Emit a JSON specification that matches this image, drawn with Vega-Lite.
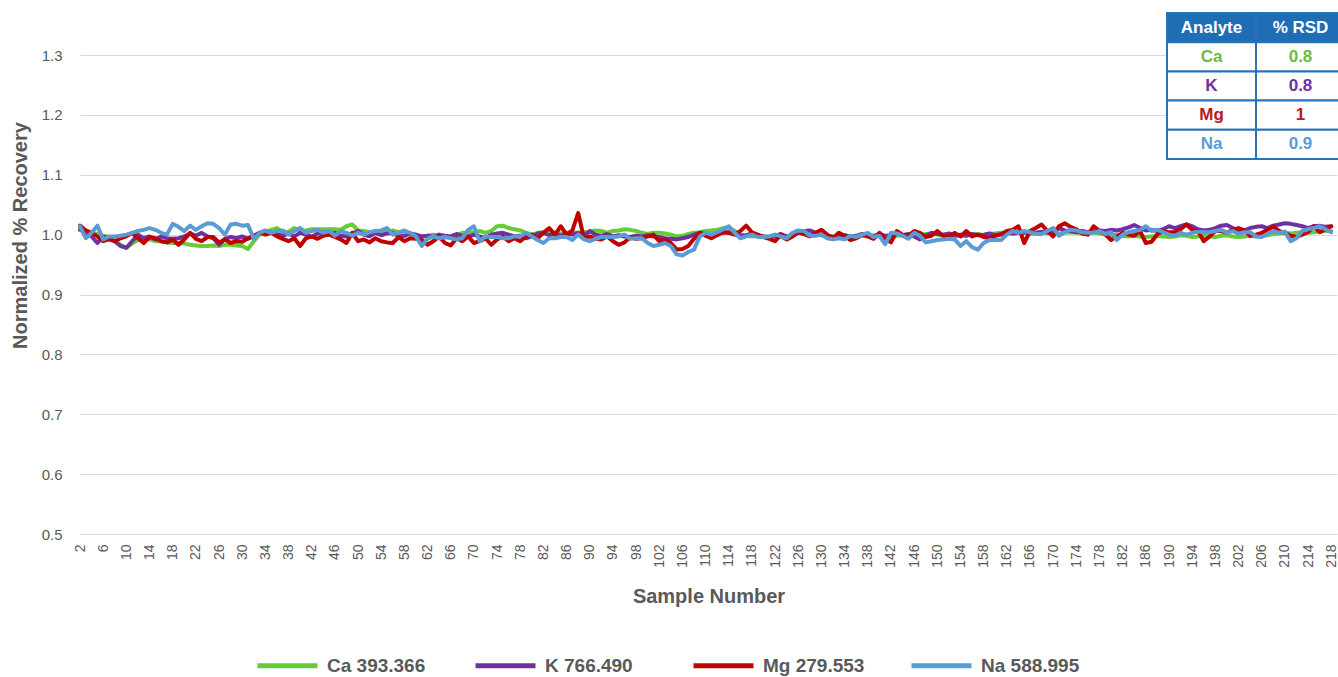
{
"$schema":"https://vega.github.io/schema/vega-lite/v6.json",
"width":1257,"height":479,
"autosize":{"type":"none"},
"padding":{"left":80,"top":55,"right":1,"bottom":143},
"background":"white",
"config":{"view":{"stroke":null},"font":"Liberation Sans"},
"layer":[
{
"data":{"values":[
{"s":2,"Ca":1.011,"K":1.008,"Mg":1.015,"Na":1.014},
{"s":3,"Ca":1.006,"K":1.003,"Mg":1.007,"Na":0.994},
{"s":4,"Ca":1.003,"K":0.997,"Mg":1.003,"Na":1.003},
{"s":5,"Ca":1.001,"K":0.986,"Mg":0.997,"Na":1.015},
{"s":6,"Ca":0.998,"K":0.997,"Mg":0.989,"Na":0.992},
{"s":7,"Ca":0.996,"K":0.993,"Mg":0.992,"Na":0.997},
{"s":8,"Ca":0.989,"K":0.989,"Mg":0.989,"Na":0.997},
{"s":9,"Ca":0.983,"K":0.981,"Mg":0.994,"Na":0.998},
{"s":10,"Ca":0.978,"K":0.978,"Mg":0.997,"Na":1.0},
{"s":11,"Ca":0.985,"K":0.989,"Mg":1.003,"Na":1.003},
{"s":12,"Ca":0.991,"K":1.0,"Mg":0.994,"Na":1.006},
{"s":13,"Ca":0.994,"K":0.994,"Mg":0.986,"Na":1.008},
{"s":14,"Ca":0.992,"K":0.997,"Mg":0.996,"Na":1.011},
{"s":15,"Ca":0.989,"K":0.992,"Mg":0.994,"Na":1.008},
{"s":16,"Ca":0.989,"K":0.997,"Mg":0.989,"Na":1.003},
{"s":17,"Ca":0.987,"K":0.994,"Mg":0.987,"Na":1.0},
{"s":18,"Ca":0.986,"K":0.993,"Mg":0.992,"Na":1.018},
{"s":19,"Ca":0.986,"K":0.994,"Mg":0.983,"Na":1.013},
{"s":20,"Ca":0.985,"K":0.997,"Mg":0.992,"Na":1.006},
{"s":21,"Ca":0.983,"K":1.002,"Mg":1.003,"Na":1.015},
{"s":22,"Ca":0.982,"K":0.998,"Mg":0.993,"Na":1.008},
{"s":23,"Ca":0.981,"K":1.003,"Mg":0.989,"Na":1.014},
{"s":24,"Ca":0.981,"K":0.997,"Mg":0.996,"Na":1.019},
{"s":25,"Ca":0.982,"K":0.994,"Mg":0.996,"Na":1.018},
{"s":26,"Ca":0.981,"K":0.983,"Mg":0.987,"Na":1.011},
{"s":27,"Ca":0.983,"K":0.993,"Mg":0.992,"Na":1.0},
{"s":28,"Ca":0.983,"K":0.996,"Mg":0.986,"Na":1.017},
{"s":29,"Ca":0.982,"K":0.994,"Mg":0.989,"Na":1.018},
{"s":30,"Ca":0.981,"K":0.997,"Mg":0.988,"Na":1.015},
{"s":31,"Ca":0.976,"K":0.993,"Mg":0.994,"Na":1.016},
{"s":32,"Ca":0.989,"K":0.998,"Mg":0.997,"Na":0.993},
{"s":33,"Ca":1.0,"K":1.003,"Mg":1.003,"Na":1.003},
{"s":34,"Ca":1.004,"K":1.006,"Mg":1.0,"Na":1.007},
{"s":35,"Ca":1.008,"K":1.003,"Mg":1.003,"Na":1.003},
{"s":36,"Ca":1.011,"K":1.001,"Mg":0.997,"Na":1.006},
{"s":37,"Ca":1.004,"K":0.998,"Mg":0.993,"Na":1.007},
{"s":38,"Ca":1.005,"K":1.002,"Mg":0.989,"Na":1.0},
{"s":39,"Ca":1.011,"K":0.997,"Mg":0.994,"Na":1.006},
{"s":40,"Ca":1.006,"K":1.003,"Mg":0.981,"Na":1.011},
{"s":41,"Ca":1.007,"K":1.0,"Mg":0.994,"Na":1.003},
{"s":42,"Ca":1.009,"K":0.996,"Mg":0.997,"Na":1.006},
{"s":43,"Ca":1.009,"K":1.002,"Mg":0.993,"Na":1.008},
{"s":44,"Ca":1.009,"K":1.004,"Mg":0.998,"Na":1.003},
{"s":45,"Ca":1.009,"K":1.0,"Mg":1.0,"Na":1.006},
{"s":46,"Ca":1.009,"K":1.003,"Mg":0.996,"Na":0.998},
{"s":47,"Ca":1.008,"K":0.998,"Mg":0.992,"Na":1.006},
{"s":48,"Ca":1.014,"K":0.997,"Mg":0.986,"Na":1.003},
{"s":49,"Ca":1.017,"K":1.002,"Mg":1.003,"Na":0.998},
{"s":50,"Ca":1.007,"K":1.006,"Mg":0.989,"Na":1.003},
{"s":51,"Ca":1.006,"K":1.0,"Mg":0.992,"Na":1.0},
{"s":52,"Ca":1.004,"K":0.997,"Mg":0.987,"Na":1.004},
{"s":53,"Ca":1.003,"K":1.003,"Mg":0.994,"Na":1.006},
{"s":54,"Ca":1.003,"K":0.999,"Mg":0.989,"Na":1.007},
{"s":55,"Ca":1.005,"K":1.002,"Mg":0.987,"Na":1.011},
{"s":56,"Ca":1.007,"K":1.003,"Mg":0.986,"Na":1.0},
{"s":57,"Ca":1.004,"K":0.997,"Mg":0.996,"Na":1.003},
{"s":58,"Ca":1.007,"K":0.998,"Mg":0.989,"Na":1.006},
{"s":59,"Ca":1.001,"K":1.002,"Mg":0.994,"Na":1.003},
{"s":60,"Ca":0.998,"K":1.0,"Mg":0.993,"Na":0.997},
{"s":61,"Ca":0.997,"K":0.997,"Mg":0.991,"Na":0.981},
{"s":62,"Ca":0.998,"K":0.998,"Mg":0.983,"Na":0.993},
{"s":63,"Ca":1.0,"K":0.996,"Mg":0.989,"Na":0.997},
{"s":64,"Ca":0.998,"K":1.0,"Mg":0.997,"Na":0.994},
{"s":65,"Ca":0.997,"K":0.998,"Mg":0.986,"Na":0.996},
{"s":66,"Ca":0.996,"K":0.997,"Mg":0.982,"Na":0.994},
{"s":67,"Ca":0.999,"K":1.001,"Mg":0.994,"Na":0.992},
{"s":68,"Ca":1.003,"K":0.998,"Mg":0.989,"Na":0.994},
{"s":69,"Ca":1.003,"K":0.996,"Mg":0.997,"Na":1.008},
{"s":70,"Ca":1.004,"K":1.0,"Mg":0.986,"Na":1.014},
{"s":71,"Ca":1.006,"K":0.997,"Mg":0.989,"Na":0.989},
{"s":72,"Ca":1.003,"K":0.994,"Mg":0.994,"Na":0.997},
{"s":73,"Ca":1.006,"K":1.0,"Mg":0.983,"Na":0.996},
{"s":74,"Ca":1.014,"K":1.002,"Mg":0.992,"Na":0.996},
{"s":75,"Ca":1.015,"K":1.003,"Mg":0.997,"Na":0.994},
{"s":76,"Ca":1.011,"K":1.0,"Mg":0.989,"Na":0.994},
{"s":77,"Ca":1.009,"K":0.997,"Mg":0.994,"Na":0.997},
{"s":78,"Ca":1.007,"K":0.998,"Mg":0.989,"Na":0.997},
{"s":79,"Ca":1.003,"K":0.994,"Mg":0.997,"Na":1.003},
{"s":80,"Ca":1.0,"K":0.997,"Mg":1.0,"Na":0.997},
{"s":81,"Ca":1.003,"K":1.002,"Mg":0.994,"Na":0.991},
{"s":82,"Ca":1.004,"K":1.003,"Mg":1.003,"Na":0.986},
{"s":83,"Ca":1.003,"K":0.999,"Mg":1.011,"Na":0.994},
{"s":84,"Ca":1.003,"K":1.002,"Mg":1.0,"Na":0.994},
{"s":85,"Ca":1.002,"K":0.998,"Mg":1.014,"Na":0.996},
{"s":86,"Ca":1.003,"K":1.001,"Mg":1.0,"Na":0.996},
{"s":87,"Ca":1.004,"K":1.0,"Mg":1.007,"Na":0.991},
{"s":88,"Ca":1.003,"K":1.003,"Mg":1.036,"Na":1.0},
{"s":89,"Ca":1.004,"K":0.998,"Mg":0.994,"Na":0.992},
{"s":90,"Ca":1.005,"K":1.006,"Mg":0.997,"Na":0.989},
{"s":91,"Ca":1.007,"K":1.0,"Mg":0.993,"Na":0.993},
{"s":92,"Ca":1.006,"K":0.998,"Mg":0.992,"Na":0.996},
{"s":93,"Ca":1.003,"K":1.001,"Mg":0.997,"Na":0.996},
{"s":94,"Ca":1.006,"K":0.997,"Mg":0.989,"Na":0.996},
{"s":95,"Ca":1.007,"K":0.999,"Mg":0.983,"Na":0.997},
{"s":96,"Ca":1.009,"K":0.997,"Mg":0.987,"Na":1.0},
{"s":97,"Ca":1.008,"K":0.996,"Mg":0.996,"Na":0.993},
{"s":98,"Ca":1.006,"K":0.998,"Mg":0.993,"Na":0.994},
{"s":99,"Ca":1.003,"K":0.997,"Mg":0.994,"Na":0.994},
{"s":100,"Ca":1.001,"K":0.999,"Mg":0.997,"Na":0.986},
{"s":101,"Ca":1.003,"K":0.997,"Mg":1.0,"Na":0.981},
{"s":102,"Ca":1.003,"K":0.996,"Mg":0.989,"Na":0.983},
{"s":103,"Ca":1.002,"K":0.994,"Mg":0.992,"Na":0.986},
{"s":104,"Ca":1.0,"K":0.993,"Mg":0.986,"Na":0.981},
{"s":105,"Ca":0.997,"K":0.992,"Mg":0.975,"Na":0.967},
{"s":106,"Ca":0.998,"K":0.994,"Mg":0.976,"Na":0.965},
{"s":107,"Ca":1.001,"K":0.996,"Mg":0.981,"Na":0.971},
{"s":108,"Ca":1.003,"K":1.0,"Mg":0.993,"Na":0.975},
{"s":109,"Ca":1.004,"K":1.003,"Mg":1.003,"Na":0.997},
{"s":110,"Ca":1.006,"K":1.001,"Mg":0.998,"Na":1.003},
{"s":111,"Ca":1.007,"K":0.999,"Mg":0.994,"Na":1.0},
{"s":112,"Ca":1.008,"K":1.002,"Mg":0.999,"Na":1.004},
{"s":113,"Ca":1.011,"K":1.003,"Mg":1.004,"Na":1.009},
{"s":114,"Ca":1.012,"K":1.004,"Mg":1.003,"Na":1.014},
{"s":115,"Ca":1.006,"K":1.001,"Mg":1.0,"Na":1.003},
{"s":116,"Ca":1.0,"K":0.998,"Mg":1.006,"Na":0.994},
{"s":117,"Ca":0.998,"K":0.999,"Mg":1.015,"Na":0.997},
{"s":118,"Ca":0.997,"K":1.002,"Mg":1.004,"Na":1.0},
{"s":119,"Ca":0.998,"K":0.998,"Mg":1.0,"Na":0.996},
{"s":120,"Ca":0.997,"K":0.997,"Mg":0.996,"Na":0.996},
{"s":121,"Ca":0.996,"K":0.996,"Mg":0.993,"Na":0.997},
{"s":122,"Ca":0.998,"K":0.998,"Mg":0.989,"Na":1.0},
{"s":123,"Ca":0.996,"K":1.001,"Mg":1.0,"Na":0.997},
{"s":124,"Ca":0.992,"K":0.997,"Mg":0.992,"Na":0.994},
{"s":125,"Ca":0.997,"K":0.999,"Mg":0.997,"Na":1.003},
{"s":126,"Ca":1.003,"K":1.003,"Mg":1.004,"Na":1.007},
{"s":127,"Ca":1.001,"K":1.006,"Mg":1.001,"Na":1.006},
{"s":128,"Ca":0.998,"K":1.007,"Mg":0.997,"Na":0.998},
{"s":129,"Ca":0.999,"K":1.003,"Mg":1.003,"Na":0.998},
{"s":130,"Ca":1.0,"K":0.999,"Mg":1.008,"Na":1.0},
{"s":131,"Ca":0.998,"K":0.998,"Mg":1.0,"Na":0.994},
{"s":132,"Ca":0.997,"K":0.996,"Mg":0.994,"Na":0.992},
{"s":133,"Ca":0.996,"K":0.998,"Mg":1.003,"Na":0.994},
{"s":134,"Ca":0.998,"K":0.999,"Mg":0.998,"Na":0.992},
{"s":135,"Ca":0.997,"K":0.997,"Mg":0.991,"Na":0.998},
{"s":136,"Ca":0.996,"K":0.998,"Mg":0.994,"Na":0.996},
{"s":137,"Ca":0.998,"K":1.001,"Mg":1.0,"Na":1.0},
{"s":138,"Ca":0.997,"K":0.999,"Mg":0.997,"Na":1.003},
{"s":139,"Ca":0.999,"K":0.997,"Mg":0.993,"Na":0.996},
{"s":140,"Ca":0.998,"K":1.001,"Mg":1.003,"Na":0.998},
{"s":141,"Ca":0.997,"K":0.998,"Mg":0.994,"Na":0.984},
{"s":142,"Ca":0.996,"K":0.999,"Mg":0.987,"Na":1.003},
{"s":143,"Ca":0.998,"K":1.002,"Mg":1.006,"Na":1.002},
{"s":144,"Ca":0.999,"K":0.999,"Mg":1.0,"Na":0.998},
{"s":145,"Ca":0.997,"K":1.001,"Mg":0.998,"Na":0.993},
{"s":146,"Ca":0.998,"K":0.997,"Mg":1.006,"Na":1.003},
{"s":147,"Ca":1.0,"K":0.992,"Mg":1.003,"Na":0.998},
{"s":148,"Ca":1.001,"K":0.998,"Mg":0.996,"Na":0.987},
{"s":149,"Ca":1.002,"K":1.003,"Mg":0.998,"Na":0.989},
{"s":150,"Ca":1.0,"K":1.001,"Mg":1.006,"Na":0.991},
{"s":151,"Ca":0.998,"K":1.0,"Mg":0.998,"Na":0.992},
{"s":152,"Ca":0.997,"K":1.002,"Mg":0.997,"Na":0.993},
{"s":153,"Ca":0.997,"K":0.999,"Mg":1.003,"Na":0.992},
{"s":154,"Ca":0.998,"K":1.0,"Mg":0.997,"Na":0.981},
{"s":155,"Ca":0.999,"K":0.998,"Mg":1.006,"Na":0.989},
{"s":156,"Ca":1.0,"K":1.001,"Mg":0.997,"Na":0.979},
{"s":157,"Ca":1.001,"K":0.999,"Mg":1.0,"Na":0.975},
{"s":158,"Ca":0.999,"K":1.0,"Mg":0.996,"Na":0.986},
{"s":159,"Ca":1.001,"K":1.002,"Mg":0.994,"Na":0.991},
{"s":160,"Ca":1.002,"K":0.999,"Mg":0.998,"Na":0.991},
{"s":161,"Ca":1.003,"K":1.001,"Mg":1.0,"Na":0.991},
{"s":162,"Ca":1.003,"K":1.003,"Mg":1.006,"Na":1.0},
{"s":163,"Ca":1.002,"K":1.002,"Mg":1.008,"Na":1.006},
{"s":164,"Ca":1.003,"K":1.003,"Mg":1.014,"Na":1.003},
{"s":165,"Ca":1.004,"K":1.004,"Mg":0.986,"Na":1.006},
{"s":166,"Ca":1.003,"K":1.002,"Mg":1.006,"Na":1.004},
{"s":167,"Ca":1.002,"K":1.003,"Mg":1.011,"Na":1.001},
{"s":168,"Ca":1.003,"K":1.005,"Mg":1.017,"Na":1.001},
{"s":169,"Ca":1.004,"K":1.003,"Mg":1.006,"Na":1.006},
{"s":170,"Ca":1.003,"K":1.007,"Mg":0.997,"Na":1.011},
{"s":171,"Ca":1.002,"K":1.011,"Mg":1.014,"Na":0.998},
{"s":172,"Ca":1.003,"K":1.007,"Mg":1.019,"Na":1.004},
{"s":173,"Ca":1.004,"K":1.006,"Mg":1.013,"Na":1.008},
{"s":174,"Ca":1.003,"K":1.004,"Mg":1.009,"Na":1.007},
{"s":175,"Ca":1.002,"K":1.006,"Mg":1.002,"Na":1.004},
{"s":176,"Ca":1.003,"K":1.004,"Mg":1.0,"Na":1.003},
{"s":177,"Ca":1.004,"K":1.005,"Mg":1.014,"Na":1.003},
{"s":178,"Ca":1.002,"K":1.007,"Mg":1.006,"Na":1.006},
{"s":179,"Ca":1.001,"K":1.006,"Mg":1.0,"Na":1.001},
{"s":180,"Ca":0.999,"K":1.008,"Mg":0.991,"Na":1.004},
{"s":181,"Ca":1.0,"K":1.007,"Mg":0.997,"Na":0.991},
{"s":182,"Ca":0.998,"K":1.009,"Mg":1.003,"Na":1.0},
{"s":183,"Ca":0.997,"K":1.012,"Mg":1.0,"Na":1.004},
{"s":184,"Ca":0.998,"K":1.016,"Mg":0.998,"Na":1.006},
{"s":185,"Ca":0.997,"K":1.011,"Mg":1.006,"Na":1.008},
{"s":186,"Ca":0.996,"K":1.007,"Mg":0.986,"Na":1.014},
{"s":187,"Ca":0.997,"K":1.008,"Mg":0.988,"Na":1.006},
{"s":188,"Ca":0.998,"K":1.006,"Mg":1.001,"Na":1.008},
{"s":189,"Ca":0.997,"K":1.009,"Mg":1.005,"Na":1.004},
{"s":190,"Ca":0.996,"K":1.014,"Mg":1.004,"Na":1.0},
{"s":191,"Ca":0.997,"K":1.011,"Mg":1.004,"Na":0.998},
{"s":192,"Ca":0.999,"K":1.014,"Mg":1.009,"Na":1.003},
{"s":193,"Ca":0.998,"K":1.017,"Mg":1.017,"Na":1.0},
{"s":194,"Ca":0.996,"K":1.014,"Mg":1.008,"Na":1.003},
{"s":195,"Ca":0.997,"K":1.009,"Mg":1.006,"Na":1.005},
{"s":196,"Ca":0.998,"K":1.007,"Mg":0.989,"Na":1.004},
{"s":197,"Ca":0.997,"K":1.008,"Mg":0.997,"Na":1.004},
{"s":198,"Ca":0.996,"K":1.011,"Mg":1.006,"Na":1.006},
{"s":199,"Ca":0.998,"K":1.015,"Mg":1.006,"Na":1.008},
{"s":200,"Ca":0.999,"K":1.016,"Mg":1.003,"Na":1.003},
{"s":201,"Ca":0.997,"K":1.011,"Mg":1.008,"Na":1.006},
{"s":202,"Ca":0.996,"K":1.006,"Mg":1.011,"Na":1.001},
{"s":203,"Ca":0.997,"K":1.007,"Mg":1.007,"Na":1.004},
{"s":204,"Ca":0.998,"K":1.011,"Mg":0.998,"Na":1.004},
{"s":205,"Ca":0.997,"K":1.013,"Mg":1.0,"Na":0.997},
{"s":206,"Ca":0.998,"K":1.014,"Mg":1.003,"Na":0.996},
{"s":207,"Ca":0.999,"K":1.011,"Mg":1.008,"Na":1.001},
{"s":208,"Ca":1.001,"K":1.015,"Mg":1.014,"Na":1.006},
{"s":209,"Ca":1.002,"K":1.017,"Mg":1.006,"Na":1.003},
{"s":210,"Ca":1.003,"K":1.019,"Mg":1.003,"Na":1.005},
{"s":211,"Ca":1.002,"K":1.018,"Mg":0.998,"Na":0.989},
{"s":212,"Ca":1.003,"K":1.016,"Mg":0.996,"Na":0.994},
{"s":213,"Ca":1.004,"K":1.014,"Mg":1.0,"Na":1.006},
{"s":214,"Ca":1.003,"K":1.011,"Mg":1.004,"Na":1.009},
{"s":215,"Ca":1.004,"K":1.014,"Mg":1.014,"Na":1.011},
{"s":216,"Ca":1.005,"K":1.015,"Mg":1.004,"Na":1.014},
{"s":217,"Ca":1.006,"K":1.013,"Mg":1.009,"Na":1.009},
{"s":218,"Ca":1.006,"K":1.014,"Mg":1.014,"Na":1.004}
]},
"transform":[{"fold":["Ca","K","Mg","Na"],"as":["analyte","value"]}],
"mark":{"type":"line","strokeWidth":4,"strokeJoin":"round","strokeCap":"round"},
"encoding":{
"x":{"field":"s","type":"quantitative","scale":{"domain":[2,219],"nice":false,"zero":false},
"axis":{"values":[2,6,10,14,18,22,26,30,34,38,42,46,50,54,58,62,66,70,74,78,82,86,90,94,98,102,106,110,114,118,122,126,130,134,138,142,146,150,154,158,162,166,170,174,178,182,186,190,194,198,202,206,210,214,218],
"labelAngle":-90,"labelFontSize":14,"labelColor":"#595959","labelPadding":10,"labelFlush":false,"labelOverlap":false,
"ticks":false,"domainColor":"#D9D9D9","grid":false,
"title":"Sample Number","titleFontSize":20,"titleColor":"#595959","titleFontWeight":"bold","titleY":62,"titleBaseline":"middle"}},
"y":{"field":"value","type":"quantitative","scale":{"domain":[0.5,1.3],"nice":false,"zero":false},
"axis":{"values":[0.5,0.6,0.7,0.8,0.9,1.0,1.1,1.2,1.3],"format":".1f","grid":true,"gridColor":"#D9D9D9","gridWidth":1,"domain":false,"ticks":false,
"labelFontSize":15,"labelColor":"#595959","labelPadding":18,
"title":"Normalized % Recovery","titleFontSize":20,"titleColor":"#595959","titleFontWeight":"bold","titleX":-60,"titleY":180,"titleBaseline":"middle","titleAlign":"center"}},
"color":{"field":"analyte","type":"nominal",
"scale":{"domain":["Ca","K","Mg","Na"],"range":["#66CC33","#7030A0","#C00000","#5B9BD5"]},
"legend":{"orient":"none","legendX":175,"legendY":578,"direction":"horizontal","columns":4,"gridAlign":"all","columnPadding":36,"padding":0,
"title":null,"symbolType":"stroke","symbolSize":3600,"symbolStrokeWidth":5,
"labelFontSize":19,"labelFontWeight":"bold","labelColor":"#595959","labelOffset":7,"labelLimit":200,
"labelExpr":"{'Ca':'Ca 393.366','K':'K 766.490','Mg':'Mg 279.553','Na':'Na 588.995'}[datum.label]"}}
}
},
{
"data":{"values":[
{"r":"h","c":"A","t":"Analyte","k":"head"},{"r":"h","c":"R","t":"% RSD","k":"head"},
{"r":"Ca","c":"A","t":"Ca","k":"Ca"},{"r":"Ca","c":"R","t":"0.8","k":"Ca"},
{"r":"K","c":"A","t":"K","k":"K"},{"r":"K","c":"R","t":"0.8","k":"K"},
{"r":"Mg","c":"A","t":"Mg","k":"Mg"},{"r":"Mg","c":"R","t":"1","k":"Mg"},
{"r":"Na","c":"A","t":"Na","k":"Na"},{"r":"Na","c":"R","t":"0.9","k":"Na"}
]},
"encoding":{
"x":{"field":"c","type":"nominal","scale":{"domain":["A","R"],"range":[1087,1265],"paddingInner":0,"paddingOuter":0},"axis":null},
"y":{"field":"r","type":"nominal","scale":{"domain":["h","Ca","K","Mg","Na"],"range":[-42,104],"paddingInner":0,"paddingOuter":0},"axis":null}
},
"layer":[
{"mark":{"type":"rect","stroke":"#2A72B8","strokeWidth":2},
"encoding":{"fill":{"condition":{"test":"datum.k==='head'","value":"#1F6DB5"},"value":"white"}}},
{"mark":{"type":"text","fontSize":17,"fontWeight":"bold","font":"Liberation Sans"},
"encoding":{"text":{"field":"t"},
"fill":{"condition":[{"test":"datum.k==='head'","value":"white"},{"test":"datum.k==='Ca'","value":"#6CBB45"},{"test":"datum.k==='K'","value":"#7030A0"},{"test":"datum.k==='Mg'","value":"#C0161C"}],"value":"#5B9BD5"}}}
]
}
],
"resolve":{"scale":{"x":"independent","y":"independent"}}
}
